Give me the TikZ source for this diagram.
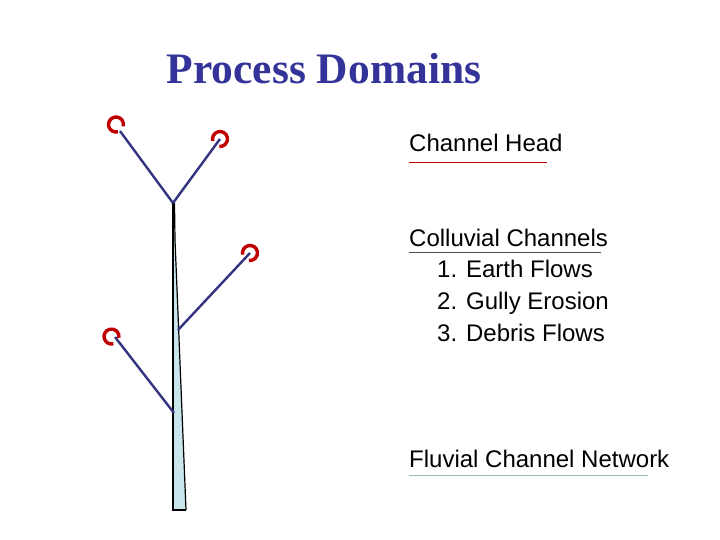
\documentclass[tikz,border=0pt]{standalone}
\usepackage{fontspec}
\setmainfont{Liberation Sans}
\newfontfamily\titlefont{Liberation Serif}
\definecolor{navy}{RGB}{51,51,128}
\definecolor{titleblue}{RGB}{51,51,153}
\definecolor{hookred}{RGB}{192,0,0}
\definecolor{trunkfill}{RGB}{200,230,235}
\begin{document}
\begin{tikzpicture}[x=1pt,y=-1pt,
  branch/.style={draw=navy,line width=2.4pt},
  hook/.style={draw=hookred,line width=3.4pt},
  label/.style={anchor=base west,inner sep=0pt,font=\fontsize{24}{28}\selectfont},
]
\useasboundingbox (0,0) rectangle (720,540);
% title
\node[anchor=base,inner sep=0pt,text=titleblue,font=\titlefont\bfseries\fontsize{43.5}{48}\selectfont] (title) at (324,84) {Process Domains};
% coordinates
\coordinate (h1) at (116,124.5);
\coordinate (s1) at (120,131);
\coordinate (h2) at (220,139);
\coordinate (h3) at (250,253);
\coordinate (h4) at (111.5,336.5);
\coordinate (s4) at (115,337);
\coordinate (j1) at (173,203);
\coordinate (j2) at (178,330);
\coordinate (j3) at (174,413);
\coordinate (tb) at (173,510);
% trunk
\fill[trunkfill] (173,203) -- (175,240) -- (186,510) -- (173,510) -- cycle;
\draw[black,line width=1.2pt] (186,510) -- (175,240) -- (174.5,203);
\draw[black,line width=1.6pt] (j1) -- (tb) -- (186,510);
% branches
\draw[branch] (s1) -- (j1);
\draw[branch] (h2) -- (j1);
\draw[branch] (h3) -- (j2);
\draw[branch] (s4) -- (j3);
% hooks
\draw[hook] (h1) ++(75:7.5) arc[start angle=75,end angle=375,radius=7.5];
\draw[hook] (h2) ++(165:7.5) arc[start angle=165,end angle=455,radius=7.5];
\draw[hook] (h3) ++(168:7.5) arc[start angle=168,end angle=458,radius=7.5];
\draw[hook] (h4) ++(75:7.5) arc[start angle=75,end angle=370,radius=7.5];
% labels
\node[label] (ch) at (409,152) {Channel Head};
\draw[hookred,line width=0.8pt] (409,162) -- (547,162);
\node[label] (cc) at (409,246) {Colluvial Channels};
\draw[black!70,line width=0.8pt] (409,252) -- (601,252);
\node[label] (i1) at (437,277) {1. Earth Flows};
\node[label] (i2) at (437,309) {2. Gully Erosion};
\node[label] (i3) at (437,341) {3. Debris Flows};
\node[label] (fc) at (409,467) {Fluvial Channel Network};
\draw[trunkfill!80!black,line width=0.8pt] (409,475) -- (648,475);
\end{tikzpicture}
\end{document}
